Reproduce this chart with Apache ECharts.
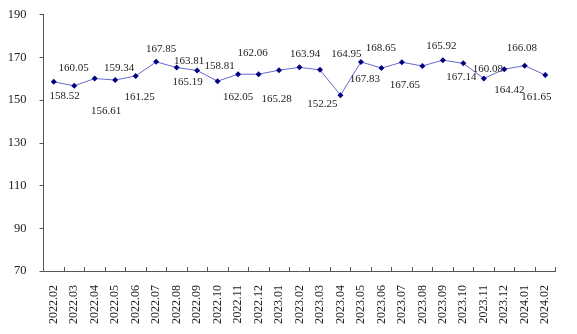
<!DOCTYPE html>
<html>
<head>
<meta charset="utf-8">
<script src="https://cdn.jsdelivr.net/npm/echarts@6/dist/echarts.min.js"></script>
<style>
  html, body { margin: 0; padding: 0; background: #fff; }
  #chart { width: 577px; height: 334px; }
</style>
</head>
<body>
<div id="chart"></div>
<script>
// Monthly index, 2022.02 – 2024.02
const months = [
  '2022.02', '2022.03', '2022.04', '2022.05', '2022.06', '2022.07', '2022.08',
  '2022.09', '2022.10', '2022.11', '2022.12', '2023.01', '2023.02', '2023.03',
  '2023.04', '2023.05', '2023.06', '2023.07', '2023.08', '2023.09', '2023.10',
  '2023.11', '2023.12', '2024.01', '2024.02'
];
const values = [
  158.52, 156.61, 160.05, 159.34, 161.25, 167.85, 165.19,
  163.81, 158.81, 162.05, 162.06, 163.94, 165.28, 164.10,
  152.25, 167.83, 164.95, 167.65, 165.92, 168.65, 167.14,
  160.08, 164.42, 166.08, 161.65
];
// months whose value label is shown
const labelled = [
  true, true, true, true, true, true, true,
  true, true, true, true, true, true, false,
  true, true, true, true, true, true, true,
  true, true, true, true
];
const yTicks = { min: 70, max: 190, step: 20 };

// label placement relative to each point (px)
const labelOffsets = [
  [11, 14], [32, 25], [-21, -10], [4, -12], [4, 21], [5, -13], [11, 15],
  [-8, -9], [2, -15], [0, 23], [-6, -21], [26, -16], [-23, 32], [0, 0],
  [-18, 9], [4, 17], [-35, -14], [3, 23], [19, -20], [-62, -12], [-2, 14],
  [4, -9], [5, 21], [-3, -18], [-9, 22]
];

const seriesData = values.map((v, i) => ({
  value: v,
  label: { show: labelled[i] }
}));

const chart = echarts.init(document.getElementById('chart'), null, { renderer: 'canvas' });
chart.setOption({
  animation: false,
  backgroundColor: '#ffffff',
  grid: { left: 43.5, right: 21.5, top: 14.5, bottom: 63 },
  xAxis: {
    type: 'category',
    data: months,
    boundaryGap: true,
    axisLine: { lineStyle: { color: '#555555', width: 1 } },
    axisTick: { show: true, inside: true, length: 4, alignWithLabel: false,
      lineStyle: { color: '#555555' } },
    axisLabel: {
      interval: 0, rotate: 90, margin: 14,
      fontFamily: 'Liberation Serif', fontSize: 12, color: '#222222'
    },
    splitLine: { show: false }
  },
  yAxis: {
    type: 'value',
    min: yTicks.min, max: yTicks.max, interval: yTicks.step,
    axisLine: { show: true, lineStyle: { color: '#555555', width: 1 } },
    axisTick: { show: true, inside: false, length: 4, lineStyle: { color: '#555555' } },
    axisLabel: {
      margin: 17, fontFamily: 'Liberation Serif', fontSize: 12.5, color: '#222222'
    },
    splitLine: { show: false }
  },
  series: [{
    type: 'line',
    data: seriesData,
    symbol: 'diamond',
    symbolSize: 6,
    itemStyle: { color: '#000080' },
    lineStyle: { color: '#6a6ad0', width: 1 },
    label: {
      show: true,
      position: 'inside',
      align: 'center',
      verticalAlign: 'middle',
      fontFamily: 'Liberation Serif',
      fontSize: 11,
      color: '#222222',
      formatter: p => p.value.toFixed(2)
    },
    labelLayout: params => ({
      dx: labelOffsets[params.dataIndex][0],
      dy: labelOffsets[params.dataIndex][1],
      hideOverlap: false
    })
  }]
});
</script>
</body>
</html>
